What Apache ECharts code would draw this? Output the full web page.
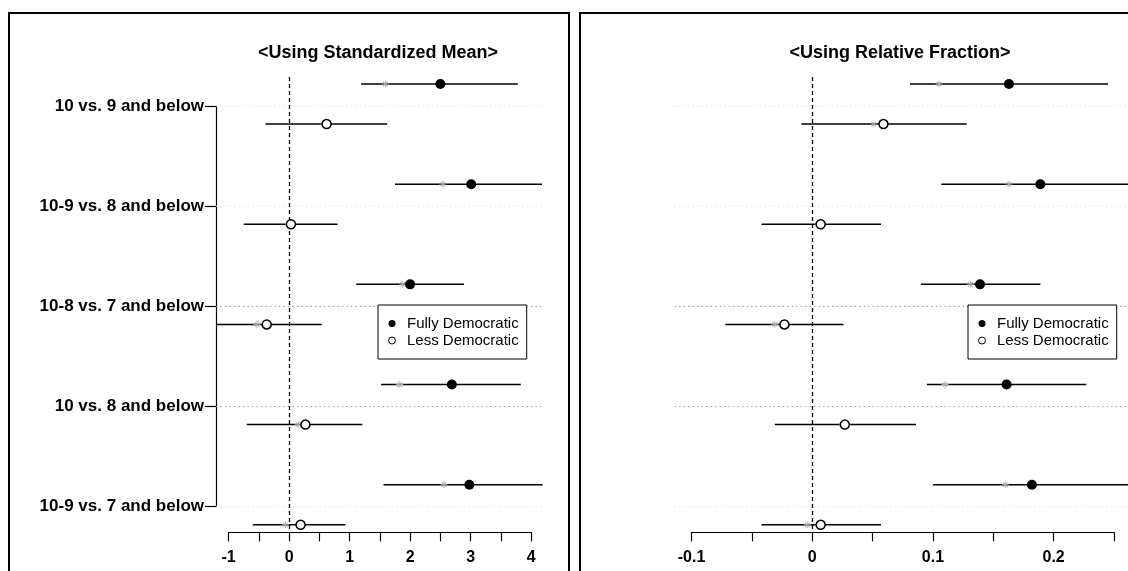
<!DOCTYPE html>
<html>
<head>
<meta charset="utf-8">
<title>Democracy comparisons</title>
<script src="https://cdn.jsdelivr.net/npm/echarts@6/dist/echarts.min.js"></script>
<style>
  html, body { margin: 0; padding: 0; background: #fff; }
  #chart { width: 1128px; height: 571px; }
</style>
</head>
<body>
<div id="chart"></div>
<script>
// Comparison groups (one row per comparison, top to bottom)
const categories = [
  '10 vs. 9 and below',
  '10-9 vs. 8 and below',
  '10-8 vs. 7 and below',
  '10 vs. 8 and below',
  '10-9 vs. 7 and below'
];

// Left panel: standardized mean
const meanFullEst = [2.50, 3.01, 2.00, 2.69, 2.98];
const meanFullLo  = [1.19, 1.75, 1.11, 1.52, 1.56];
const meanFullHi  = [3.78, 4.18, 2.89, 3.83, 4.19];
const meanFullAlt = [1.59, 2.54, 1.88, 1.83, 2.56];
const meanLessEst = [0.62, 0.03, -0.37, 0.27, 0.19];
const meanLessLo  = [-0.39, -0.75, -1.21, -0.70, -0.60];
const meanLessHi  = [1.62, 0.80, 0.54, 1.21, 0.93];
const meanLessAlt = [0.57, 0.00, -0.53, 0.15, -0.06];

// Right panel: relative fraction
const fracFullEst = [0.163, 0.189, 0.139, 0.161, 0.182];
const fracFullLo  = [0.081, 0.107, 0.090, 0.095, 0.100];
const fracFullHi  = [0.245, 0.280, 0.189, 0.227, 0.280];
const fracFullAlt = [0.105, 0.163, 0.131, 0.110, 0.160];
const fracLessEst = [0.059, 0.007, -0.023, 0.027, 0.007];
const fracLessLo  = [-0.009, -0.042, -0.072, -0.031, -0.042];
const fracLessHi  = [0.128, 0.057, 0.026, 0.086, 0.057];
const fracLessAlt = [0.051, 0.005, -0.031, 0.025, -0.004];

// Axis tick labels
const meanTicks = [-1, 0, 1, 2, 3, 4];
const fracTicks = [-0.1, 0, 0.1, 0.2];

// ---- layout / styling ----
const FONT = '"Liberation Sans", Arial, Helvetica, sans-serif';
const FULL_OFFSET = -0.22;   // row offset of the fully democratic estimate
const LESS_OFFSET = 0.18;    // row offset of the less democratic estimate
const ruleShade = ['#e4e4e4', '#e4e4e4', '#9a9a9a', '#9a9a9a', '#e4e4e4'];
const STAR = 'path://M4.4,0H5.6V10H4.4Z M0,4.4H10V5.6H0Z M1.2,2L2,1.2L8.8,8L8,8.8Z M8,1.2L8.8,2L2,8.8L1.2,8Z';

const points = (est, off) => est.map((v, i) => [v, i + off]);
const intervals = (lo, hi, off) => lo.map((v, i) => [v, hi[i], i + off]);

function ciRender(params, api) {
  const a = api.coord([api.value(0), api.value(2)]);
  const b = api.coord([api.value(1), api.value(2)]);
  return {
    type: 'line',
    shape: { x1: a[0], y1: a[1], x2: b[0], y2: b[1] },
    style: { stroke: '#000', lineWidth: 1.5 }
  };
}

function ruleRender(params, api) {
  const a = api.coord([api.value(0), api.value(2)]);
  const b = api.coord([api.value(1), api.value(2)]);
  return {
    type: 'line',
    shape: { x1: a[0], y1: a[1], x2: b[0], y2: b[1] },
    style: { stroke: ruleShade[params.dataIndex], lineWidth: 1, lineDash: [1.5, 3] }
  };
}

function tickFormatter(ticks) {
  return function (v) {
    for (const t of ticks) {
      if (Math.abs(v - t) < 1e-9) return String(t);
    }
    return '';
  };
}

function valueXAxis(gridIndex, min, max, interval, ticks) {
  return {
    type: 'value', gridIndex, min, max, interval, position: 'bottom',
    axisLine: { show: true, onZero: false, lineStyle: { color: '#000', width: 1.2 } },
    axisTick: { show: true, inside: false, length: 9, lineStyle: { color: '#000', width: 1.2 } },
    axisLabel: {
      formatter: tickFormatter(ticks),
      color: '#000', fontSize: 16, fontWeight: 'bold', fontFamily: FONT, margin: 17
    },
    splitLine: { show: false }
  };
}

function hiddenYAxis(gridIndex) {
  return {
    type: 'value', gridIndex, min: -0.29, max: 4.255, inverse: true,
    show: false, splitLine: { show: false }
  };
}

function zeroLine() {
  return {
    silent: true, symbol: 'none', animation: false,
    label: { show: false },
    lineStyle: { color: '#000', type: [4, 3], width: 1.3 },
    data: [{ xAxis: 0 }]
  };
}

function panelSeries(idx, d, ruleFrom, ruleTo) {
  const rules = categories.map((c, i) => [ruleFrom, ruleTo, i]);
  return [
    {
      name: 'Fully Democratic', type: 'scatter', xAxisIndex: idx, yAxisIndex: idx,
      data: points(d.fullEst, FULL_OFFSET), symbol: 'circle', symbolSize: 10,
      itemStyle: { color: '#000', opacity: 1 }, z: 6, animation: false, markLine: zeroLine()
    },
    {
      name: 'Less Democratic', type: 'scatter', xAxisIndex: idx, yAxisIndex: idx,
      data: points(d.lessEst, LESS_OFFSET), symbol: 'circle', symbolSize: 9,
      itemStyle: { color: '#fff', borderColor: '#000', borderWidth: 1.5, opacity: 1 },
      z: 6, animation: false
    },
    {
      type: 'scatter', xAxisIndex: idx, yAxisIndex: idx, silent: true,
      data: points(d.fullAlt, FULL_OFFSET).concat(points(d.lessAlt, LESS_OFFSET)),
      symbol: STAR, symbolSize: 7, itemStyle: { color: '#a8a8a8', opacity: 1 }, z: 5, animation: false
    },
    {
      name: 'Fully Democratic', type: 'custom', xAxisIndex: idx, yAxisIndex: idx,
      renderItem: ciRender, clip: false, encode: { x: [0, 1], y: 2 },
      data: intervals(d.fullLo, d.fullHi, FULL_OFFSET), z: 4, silent: true, animation: false
    },
    {
      name: 'Less Democratic', type: 'custom', xAxisIndex: idx, yAxisIndex: idx,
      renderItem: ciRender, clip: false, encode: { x: [0, 1], y: 2 },
      data: intervals(d.lessLo, d.lessHi, LESS_OFFSET), z: 4, silent: true, animation: false
    },
    {
      type: 'custom', xAxisIndex: idx, yAxisIndex: idx,
      renderItem: ruleRender, clip: false, encode: { x: [0, 1], y: 2 },
      data: rules, z: 1, silent: true, animation: false
    }
  ];
}

function legendAt(left) {
  return {
    left, top: 305, orient: 'vertical',
    padding: [11, 8, 11, 10], itemWidth: 20, itemHeight: 7, itemGap: 2,
    borderColor: '#000', borderWidth: 1, backgroundColor: '#fff',
    textStyle: { fontSize: 15, fontFamily: FONT, color: '#000', lineHeight: 15 },
    data: [
      { name: 'Fully Democratic', icon: 'circle', itemStyle: { color: '#000', borderWidth: 0, opacity: 1 } },
      { name: 'Less Democratic', icon: 'circle', itemStyle: { color: '#fff', borderColor: '#000', borderWidth: 1, opacity: 1 } }
    ]
  };
}

const chart = echarts.init(document.getElementById('chart'), null, { renderer: 'canvas' });

chart.setOption({
  backgroundColor: '#fff',
  animation: false,
  title: [
    {
      text: '<Using Standardized Mean>', left: 378, top: 44, textAlign: 'center', padding: 0,
      textStyle: { fontSize: 18, fontWeight: 'bold', fontFamily: FONT, color: '#000' }
    },
    {
      text: '<Using Relative Fraction>', left: 900, top: 44, textAlign: 'center', padding: 0,
      textStyle: { fontSize: 18, fontWeight: 'bold', fontFamily: FONT, color: '#000' }
    }
  ],
  legend: [legendAt(378), legendAt(968)],
  graphic: [
    { type: 'rect', shape: { x: 9, y: 13, width: 560, height: 600 },
      style: { fill: 'none', stroke: '#000', lineWidth: 2 }, silent: true, z: 0 },
    { type: 'rect', shape: { x: 580, y: 13, width: 600, height: 600 },
      style: { fill: 'none', stroke: '#000', lineWidth: 2 }, silent: true, z: 0 }
  ],
  grid: [
    { left: 228.6, top: 77, width: 302.5, height: 455.3 },
    { left: 691.5, top: 77, width: 422.5, height: 455.3 },
    { left: 216, top: 106, width: 1, height: 400.7 }
  ],
  xAxis: [
    valueXAxis(0, -1, 4, 0.5, meanTicks),
    valueXAxis(1, -0.1, 0.25, 0.05, fracTicks),
    { type: 'value', gridIndex: 2, show: false }
  ],
  yAxis: [
    hiddenYAxis(0),
    hiddenYAxis(1),
    {
      type: 'category', gridIndex: 2, data: categories, inverse: true, boundaryGap: false,
      axisLine: { show: true, lineStyle: { color: '#000', width: 1.2 } },
      axisTick: { show: true, length: 11, lineStyle: { color: '#000', width: 1.2 } },
      axisLabel: { color: '#000', fontSize: 17, fontWeight: 'bold', fontFamily: FONT, margin: 12 },
      splitLine: { show: false }
    }
  ],
  series: [].concat(
    panelSeries(0, {
      fullEst: meanFullEst, fullLo: meanFullLo, fullHi: meanFullHi, fullAlt: meanFullAlt,
      lessEst: meanLessEst, lessLo: meanLessLo, lessHi: meanLessHi, lessAlt: meanLessAlt
    }, -1.21, 4.17),
    panelSeries(1, {
      fullEst: fracFullEst, fullLo: fracFullLo, fullHi: fracFullHi, fullAlt: fracFullAlt,
      lessEst: fracLessEst, lessLo: fracLessLo, lessHi: fracLessHi, lessAlt: fracLessAlt
    }, -0.114, 0.28)
  )
});
</script>
</body>
</html>
